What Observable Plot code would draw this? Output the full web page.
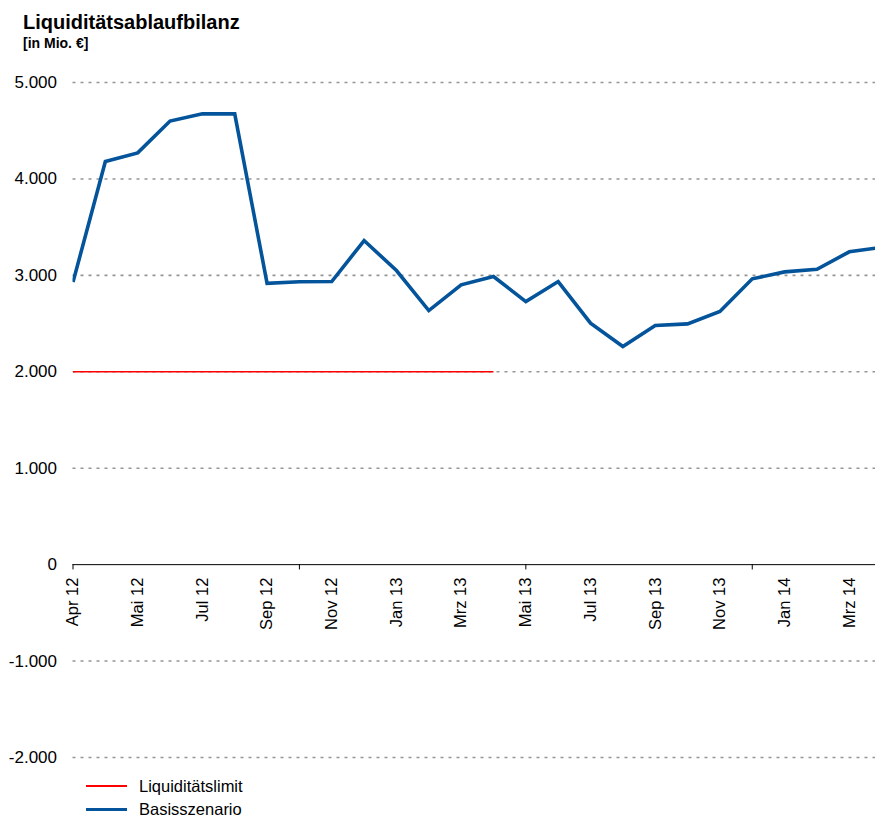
<!DOCTYPE html>
<html>
<head>
<meta charset="utf-8">
<script src="https://cdn.jsdelivr.net/npm/d3@7"></script>
<script src="https://cdn.jsdelivr.net/npm/@observablehq/plot@0.6"></script>
<style>
  html, body { margin: 0; padding: 0; background: #fff; overflow: hidden; }
  body { width: 875px; height: 817px; font-family: "Liberation Sans", Arial, sans-serif; color: #000; }
  #header { position: relative; height: 60px; }
  #title { position: absolute; left: 23px; top: 12px; font-size: 20px; line-height: 20px; font-weight: bold; }
  #subtitle { position: absolute; left: 23px; top: 36px; font-size: 14px; line-height: 14px; font-weight: bold; }
  #chart svg { display: block; }
  #legend { padding-top: 5.5px; padding-left: 86px; }
  .item { display: flex; align-items: center; height: 23px; font-size: 16.5px; }
  .sw { width: 41px; margin-right: 12px; }
</style>
</head>
<body>
<div id="header">
  <div id="title">Liquiditätsablaufbilanz</div>
  <div id="subtitle">[in Mio. €]</div>
</div>
<div id="chart"></div>
<div id="legend"></div>
<script>
// ---- data ----
const tickLabels = ["Apr 12", "Mai 12", "Jul 12", "Sep 12", "Nov 12", "Jan 13", "Mrz 13",
                    "Mai 13", "Jul 13", "Sep 13", "Nov 13", "Jan 14", "Mrz 14"];
const basisszenario = [2930, 4180, 4270, 4600, 4675, 4675, 2918, 2934, 2936, 3361, 3050, 2635, 2902,
                       2988, 2728, 2936, 2504, 2262, 2480, 2497, 2625, 2964, 3036, 3063, 3244, 3290];
const liquiditaetslimit = [2000, 2000, 2000, 2000, 2000, 2000, 2000, 2000, 2000, 2000, 2000, 2000, 2000, 2000];
const yTicks = [-2000, -1000, 0, 1000, 2000, 3000, 4000, 5000];
const gridValues = [-2000, -1000, 1000, 2000, 3000, 4000, 5000];
const axisTickIdx = [0, 7, 14, 21];
const seriesNames = ["Liquiditätslimit", "Basisszenario"];
const seriesColors = ["#ff0000", "#03549a"];

const de = d3.formatLocale({decimal: ",", thousands: ".", grouping: [3], currency: ["", " €"], minus: "-"});
const fmt = de.format(",");

const chart = Plot.plot({
  width: 875,
  height: 709,
  marginTop: 22,
  marginBottom: 12,
  marginLeft: 72.5,
  marginRight: 0,
  x: {domain: [0, 24.81], axis: null},
  y: {domain: [-2000, 5000], axis: null},
  style: {fontFamily: '"Liberation Sans", Arial, sans-serif', fontSize: "17px", color: "#000", background: "#fff"},
  marks: [
    Plot.ruleY(gridValues, {stroke: "#959595", strokeWidth: 1.6, strokeDasharray: "3,5"}),
    Plot.axisY({ticks: yTicks, tickSize: 0, tickPadding: 16, tickFormat: fmt, fontSize: 17, fill: "#000"}),
    Plot.ruleY([0], {stroke: "#000", strokeWidth: 1}),
    Plot.ruleX(axisTickIdx, {x: d => d, y1: 0, y2: -55, stroke: "#000", strokeWidth: 1}),
    Plot.text(tickLabels, {x: (d, i) => i * 2, y: () => 0, text: d => d, rotate: -90, textAnchor: "end", dy: 13, fontSize: 16.5, fill: "#000"}),
    Plot.lineY(liquiditaetslimit, {x: (d, i) => i, y: d => d, stroke: seriesColors[0], strokeWidth: 1.6, strokeLinecap: "butt"}),
    Plot.lineY(basisszenario, {x: (d, i) => i, y: d => d, stroke: seriesColors[1], strokeWidth: 3.6,
      strokeLinecap: "butt", strokeLinejoin: "miter", strokeMiterlimit: 2, clip: true})
  ]
});
document.getElementById("chart").appendChild(chart);

const legend = document.getElementById("legend");
seriesNames.forEach((name, i) => {
  const it = document.createElement("div");
  it.className = "item";
  const sw = document.createElement("div");
  sw.className = "sw";
  sw.style.height = (i === 0 ? 2 : 3) + "px";
  sw.style.background = seriesColors[i];
  const tx = document.createElement("span");
  tx.textContent = name;
  it.appendChild(sw);
  it.appendChild(tx);
  legend.appendChild(it);
});
</script>
</body>
</html>
